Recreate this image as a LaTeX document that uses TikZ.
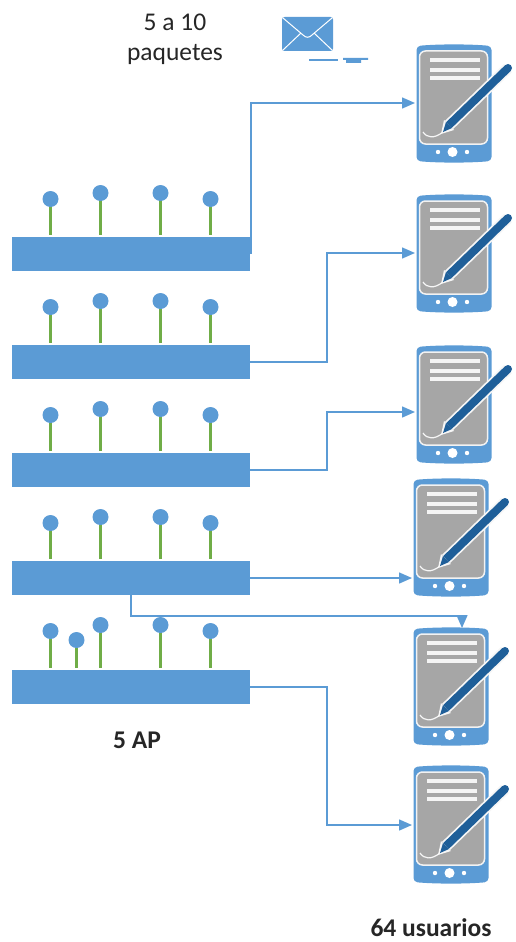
\documentclass[tikz,border=0pt]{standalone}
\usepackage{fontspec}
\setmainfont{Carlito}
\usetikzlibrary{arrows.meta,positioning}
\definecolor{blu}{HTML}{5B9BD5}
\definecolor{dkblu}{HTML}{1F5F99}
\definecolor{gry}{HTML}{A6A6A6}
\definecolor{grn}{HTML}{70AD47}
\tikzset{
  bar/.style={fill=blu,draw=none,minimum width=238pt,minimum height=34pt,inner sep=0pt,outer sep=0pt},
  device/.style={draw=none,minimum width=75pt,minimum height=118pt,inner sep=0pt,outer sep=0pt},
  link/.style={draw=blu,line width=1.5pt,-{Triangle[length=13pt,width=11pt]}},
  lbl/.style={font=\fontsize{25.5}{30}\selectfont,align=center,inner sep=0pt,text=black!85},
  blbl/.style={lbl,font=\fontsize{25.5}{30}\selectfont\bfseries},
  pda/.pic={
    \fill[blu,rounded corners=4pt] (-37.5,-58) .. controls (-15,-60) and (15,-60) .. (37.5,-58) -- (37.5,57) .. controls (15,59) and (-15,59) .. (-37.5,57) -- cycle;
    \draw[white!85!gry,line width=1.5pt,fill=gry,rounded corners=6pt] (-34.5,-53) rectangle (33.5,40);
    \foreach \yy in {-44,-34,-26} \draw[white!88!gry,line width=3.6pt] (-24,\yy) -- (26,\yy);
    \draw[white!90!gry,line width=1.2pt] (-31,28) .. controls (-27,34) and (-20,35) .. (-11,28);
    \draw[white!90!gry,line width=11.5pt] (-5,21) -- (54,-36);
    \fill[white!90!gry] (-13,30) -- (-10,16) -- (0,26) -- cycle;
    \draw[dkblu,line width=8pt] (-5,21) -- (54,-36);
    \fill[dkblu] (54,-36) circle (4pt);
    \fill[dkblu] (-11,28) -- (-8,18) -- (-2,24) -- cycle;
    \fill[white] (-1.5,48) circle (5pt);
    \fill[white] (-16,48) circle (2.2pt);
    \fill[white] (13,48) circle (2.2pt);
  },
  ant/.style={draw=grn,line width=2.2pt},
  dot/.style={fill=blu}
}
\newcommand{\antenna}[3]{%
  \draw[ant] (#1,#2) -- (#1,#3);
  \fill[dot] (#1,#2) circle (8pt);
}
\begin{document}
\begin{tikzpicture}[x=1pt,y=-1pt]
\useasboundingbox (0,0) rectangle (516,942);
% bars
\node[bar] (b1) at (131,254) {};
\node[bar] (b2) at (131,362) {};
\node[bar] (b3) at (131,470) {};
\node[bar] (b4) at (131,578) {};
\node[bar] (b5) at (131,687) {};
% antennas
\foreach \by in {237,345,453,561}{
  \antenna{50.5}{\by-38}{\by-2}
  \antenna{100.5}{\by-44}{\by-2}
  \antenna{160.5}{\by-44}{\by-2}
  \antenna{210.5}{\by-38}{\by-2}
}
\antenna{50.5}{631}{668}
\antenna{76.5}{640}{668}
\antenna{100.5}{625}{668}
\antenna{160.5}{625}{668}
\antenna{210.5}{631}{668}
% devices
\node[device] (d1) at (454,104) {};
\node[device] (d2) at (454,254) {};
\node[device] (d3) at (454,405) {};
\node[device] (d4) at (451,538) {};
\node[device] (d5) at (451,687) {};
\node[device] (d6) at (451,825) {};
\foreach \n in {d1,d2,d3,d4,d5,d6} \pic at (\n) {pda};
% arrival and start points
\coordinate (s1) at (251,254);
\coordinate (a1) at (415,103);
\coordinate (a2) at (415,253);
\coordinate (a3) at (415,412);
\coordinate (a4) at (412,578);
\coordinate (a5) at (462,628);
\coordinate (a6) at (412,825);
% connectors
\draw[link] (s1) |- (a1);
\draw[link] (b2.east) -| (327,300) |- (a2);
\draw[link] (b3.east) -| (327,440) |- (a3);
\draw[link] (b4.east) -- (a4);
\draw[link] (b4.south) |- (462,616) -- (a5);
\draw[link] (b5.east) -| (327,750) |- (a6);
% envelope
\fill[blu,rounded corners=2.5pt] (282,17) rectangle (333,51);
\draw[white,line width=1pt] (283,18) -- (303,35) .. controls (306,38) and (309,38) .. (312,35) -- (332,18);
\draw[white,line width=1pt] (283,50) -- (301,33);
\draw[white,line width=1pt] (332,50) -- (314,33);
% stray marks under the envelope
\draw[blu,line width=1.5pt] (309,60) -- (338,60);
\fill[blu] (343,58) -- (368,58) -- (368,60) -- (361,60) -- (361,63) -- (346,63) -- (346,60) -- (343,60) -- cycle;
% labels
\node[lbl] (t1) at (175,39) {5 a 10\\paquetes};
\node[blbl] (t2) at (137,740) {5 AP};
\node[blbl] (t3) at (431,928) {64 usuarios};
\end{tikzpicture}
\end{document}
